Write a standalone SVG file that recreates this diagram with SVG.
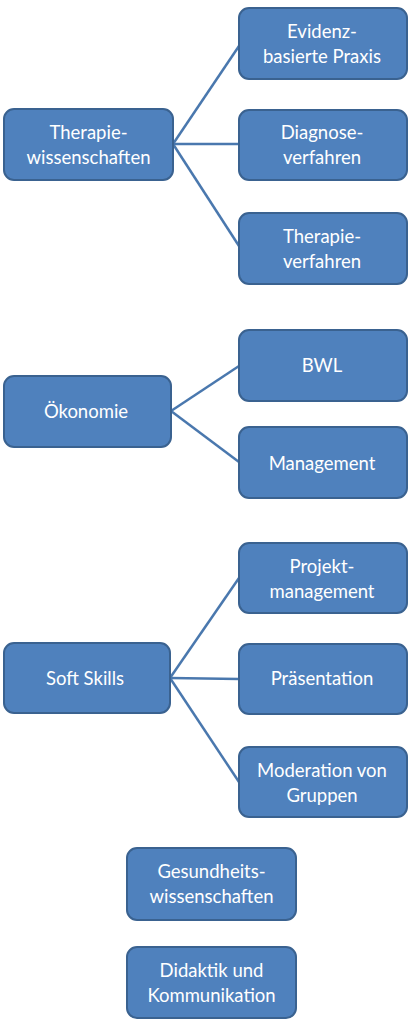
<svg xmlns="http://www.w3.org/2000/svg" width="412" height="1024" viewBox="0 0 412 1024">
<style>
.box{fill:#4F81BD;stroke:#3A6290;stroke-width:2}
.t{font-family:Lato,"Open Sans",sans-serif;font-size:18.5px;fill:#fff;text-anchor:middle}
.c{stroke:#4A78AE;stroke-width:2.5;fill:none}
</style>
<rect width="412" height="1024" fill="#fff"/>
<g id="connectors">
<line class="c" x1="173" y1="144" x2="239" y2="46"/>
<line class="c" x1="173" y1="144" x2="239" y2="144"/>
<line class="c" x1="173" y1="144" x2="239" y2="246"/>
<line class="c" x1="171" y1="411" x2="239" y2="366"/>
<line class="c" x1="171" y1="411" x2="239" y2="462"/>
<line class="c" x1="170" y1="678" x2="239" y2="578"/>
<line class="c" x1="170" y1="678" x2="239" y2="679"/>
<line class="c" x1="170" y1="678" x2="239" y2="782"/>
</g>
<g id="n-therapiewiss"><rect class="box" x="4" y="109" width="169" height="71" rx="10"/><text class="t" x="88.5" y="139">Therapie-</text><text class="t" x="88.5" y="164">wissenschaften</text></g>
<g id="n-evidenz"><rect class="box" x="239" y="8" width="168" height="71" rx="10"/><text class="t" x="322" y="38">Evidenz-</text><text class="t" x="322" y="63">basierte Praxis</text></g>
<g id="n-diagnose"><rect class="box" x="239" y="110" width="168" height="70" rx="10"/><text class="t" x="322" y="139">Diagnose-</text><text class="t" x="322" y="164">verfahren</text></g>
<g id="n-therapieverf"><rect class="box" x="239" y="213" width="168" height="71" rx="10"/><text class="t" x="322" y="243">Therapie-</text><text class="t" x="322" y="268">verfahren</text></g>
<g id="n-oekonomie"><rect class="box" x="4" y="376" width="167" height="71" rx="10"/><text class="t" x="86" y="418">Ökonomie</text></g>
<g id="n-bwl"><rect class="box" x="239" y="330" width="168" height="71" rx="10"/><text class="t" x="322" y="372">BWL</text></g>
<g id="n-management"><rect class="box" x="239" y="427" width="168" height="71" rx="10"/><text class="t" x="322" y="470">Management</text></g>
<g id="n-softskills"><rect class="box" x="4" y="643" width="166" height="70" rx="10"/><text class="t" x="85" y="685">Soft Skills</text></g>
<g id="n-projekt"><rect class="box" x="239" y="543" width="168" height="70" rx="10"/><text class="t" x="322" y="573">Projekt-</text><text class="t" x="322" y="598">management</text></g>
<g id="n-praesentation"><rect class="box" x="239" y="644" width="168" height="70" rx="10"/><text class="t" x="322" y="685">Präsentation</text></g>
<g id="n-moderation"><rect class="box" x="239" y="747" width="168" height="70" rx="10"/><text class="t" x="322" y="777">Moderation von</text><text class="t" x="322" y="802">Gruppen</text></g>
<g id="n-gesundheit"><rect class="box" x="127" y="848" width="169" height="72" rx="10"/><text class="t" x="211.5" y="878">Gesundheits-</text><text class="t" x="211.5" y="903">wissenschaften</text></g>
<g id="n-didaktik"><rect class="box" x="127" y="947" width="169" height="71" rx="10"/><text class="t" x="211.5" y="977">Didaktik und</text><text class="t" x="211.5" y="1002">Kommunikation</text></g>
</svg>
